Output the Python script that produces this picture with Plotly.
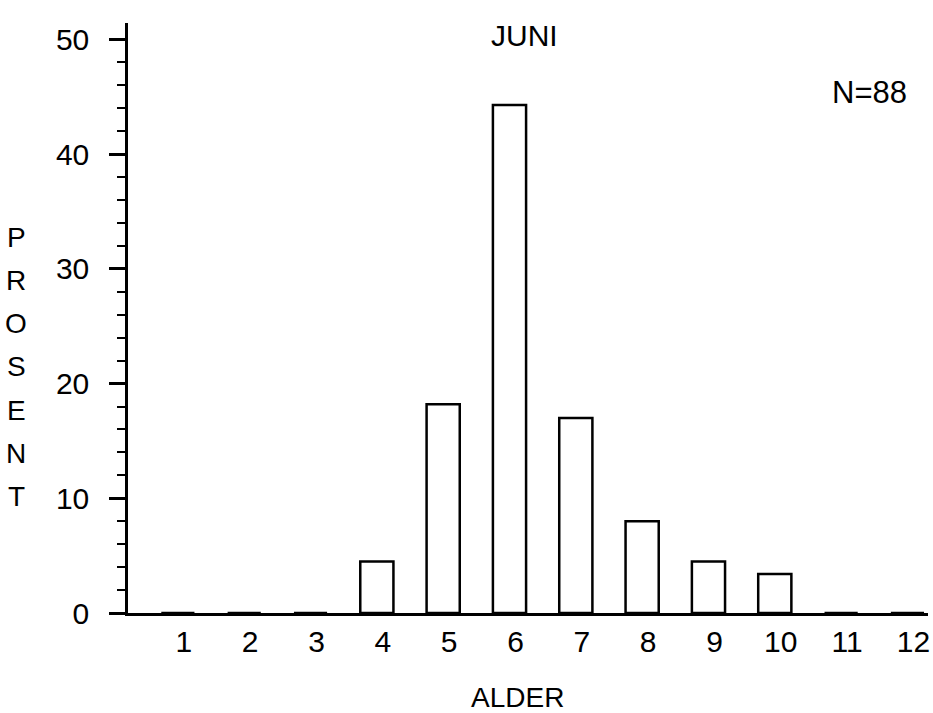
import plotly.graph_objects as go

# Age distribution for June (N=88), percent per age class
ages = [1, 2, 3, 4, 5, 6, 7, 8, 9, 10, 11, 12]
percent = [0, 0, 0, 4.5, 18.2, 44.3, 17.0, 8.0, 4.5, 3.4, 0, 0]
x_tick_labels = [str(a) for a in ages]
y_ticks = [0, 10, 20, 30, 40, 50]
y_title = "PROSENT"

FONT = "Liberation Sans, Arial, sans-serif"
INK = "black"

W, H = 933, 713
L, R, T, B = 128, 3, 23, 100
pw, ph = W - L - R, H - T - B


def paper_xy(px, py):
    """Page pixel position -> paper coordinates."""
    return (px - L) / pw, (H - B - py) / ph


fig = go.Figure()
fig.add_trace(go.Bar(
    x=ages,
    y=percent,
    width=0.5,
    marker=dict(color="white", line=dict(color=INK, width=2.5)),
    showlegend=False,
    hoverinfo="x+y",
))

annotations = []


def label(text, px, py, size=28):
    x, y = paper_xy(px, py)
    annotations.append(dict(
        text=text, x=x, y=y, xref="paper", yref="paper",
        xanchor="center", yanchor="middle", showarrow=False,
        font=dict(size=size, family=FONT, color=INK),
    ))


label("JUNI", 525, 35, size=30)
label("N=88", 871, 92, size=31)
label("ALDER", 518, 697, size=28)
for i, ch in enumerate(y_title):
    label(ch, 16, 237 + i * 43.3, size=28)

tick_font = dict(size=30, family=FONT, color=INK)

fig.update_layout(
    width=W,
    height=H,
    margin=dict(l=L, r=R, t=T, b=B),
    paper_bgcolor="white",
    plot_bgcolor="white",
    font=dict(family=FONT, color=INK, size=28),
    xaxis=dict(
        range=[0.248, 12.31],
        tickmode="array",
        tickvals=ages,
        ticktext=x_tick_labels,
        ticks="",
        showline=True,
        linecolor=INK,
        linewidth=2.5,
        showgrid=False,
        zeroline=False,
        ticklabelshift=6,
        ticklabelstandoff=0,
        ticklabeloverflow="allow",
        tickfont=tick_font,
    ),
    yaxis=dict(
        range=[0, 51.44],
        tickmode="array",
        tickvals=y_ticks,
        ticks="outside",
        ticklen=16,
        tickwidth=2.5,
        tickcolor=INK,
        minor=dict(dtick=2, ticks="outside", ticklen=8, tickwidth=2, tickcolor=INK),
        showline=True,
        linecolor=INK,
        linewidth=2.5,
        showgrid=False,
        zeroline=False,
        ticklabelstandoff=14,
        tickfont=tick_font,
    ),
    annotations=annotations,
)

fig.write_html("out.html")
